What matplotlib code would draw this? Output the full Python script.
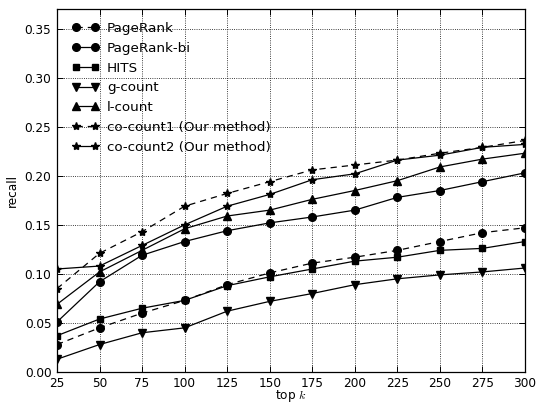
import matplotlib
matplotlib.use("Agg")
import matplotlib.pyplot as plt

topk = [25, 50, 75, 100, 125, 150, 175, 200, 225, 250, 275, 300]
pagerank = [0.028, 0.045, 0.060, 0.073, 0.089, 0.101, 0.111, 0.117, 0.124, 0.133, 0.142, 0.147]
pagerank_bi = [0.051, 0.092, 0.119, 0.133, 0.144, 0.152, 0.158, 0.165, 0.178, 0.185, 0.194, 0.203]
hits = [0.037, 0.054, 0.065, 0.073, 0.088, 0.097, 0.105, 0.113, 0.117, 0.124, 0.126, 0.133]
g_count = [0.013, 0.028, 0.040, 0.045, 0.062, 0.072, 0.080, 0.089, 0.095, 0.099, 0.102, 0.106]
l_count = [0.069, 0.102, 0.124, 0.146, 0.159, 0.165, 0.176, 0.185, 0.195, 0.209, 0.217, 0.223]
co_count1 = [0.085, 0.121, 0.143, 0.169, 0.182, 0.194, 0.206, 0.211, 0.216, 0.223, 0.229, 0.236]
co_count2 = [0.105, 0.108, 0.129, 0.150, 0.169, 0.181, 0.196, 0.202, 0.216, 0.221, 0.229, 0.232]

labels = ["PageRank", "PageRank-bi", "HITS", "g-count", "l-count",
          "co-count1 (Our method)", "co-count2 (Our method)"]
yticks = [0.00, 0.05, 0.10, 0.15, 0.20, 0.25, 0.30, 0.35]

plt.rcParams['font.family'] = ['DejaVu Sans']
plt.rcParams['font.size'] = 8.7
plt.rcParams['mathtext.fontset'] = 'cm'

fig = plt.figure(figsize=(5.38, 4.05), dpi=100)
fig.subplots_adjust(left=57/538, right=525/538, top=1-9/405, bottom=1-372/405)
ax = fig.add_subplot(111)

series = [pagerank, pagerank_bi, hits, g_count, l_count, co_count1, co_count2]
markers = ['o', 'o', 's', 'v', '^', '*', '*']
styles = ['--', '-', '-', '-', '-', '--', '-']
msizes = [5.5, 5.5, 5, 5.5, 5.5, 6, 6]
for s, m, ls, ms, lab in zip(series, markers, styles, msizes, labels):
    ax.plot(topk, s, color='black', linestyle=ls, marker=m, markersize=ms,
            linewidth=0.9, label=lab, dashes=(5, 4) if ls == '--' else (None, None))

ax.set_xlim(25, 300)
ax.set_ylim(0, 0.37)
ax.set_xticks(topk)
ax.set_yticks(yticks)
ax.set_yticklabels(["%.2f" % v for v in yticks])
ax.grid(True, color='black', linestyle=':', linewidth=0.6)
ax.tick_params(direction='in', top=True, right=True, length=4, width=0.7,
               labelsize=8.7, pad=4)
ax.tick_params(axis='x', pad=3.5)
for sp in ax.spines.values():
    sp.set_linewidth(0.9)
ax.set_xlabel(r"top $k$", labelpad=-1.5, fontsize=8.7)
ax.set_ylabel("recall", labelpad=4, fontsize=8.7)
ax.legend(loc='upper left', bbox_to_anchor=(0.006, 0.997), frameon=False,
          numpoints=2, handlelength=2.0, fontsize=9.7, labelspacing=0.5,
          handletextpad=0.6)

fig.savefig("out.png", dpi=100)
